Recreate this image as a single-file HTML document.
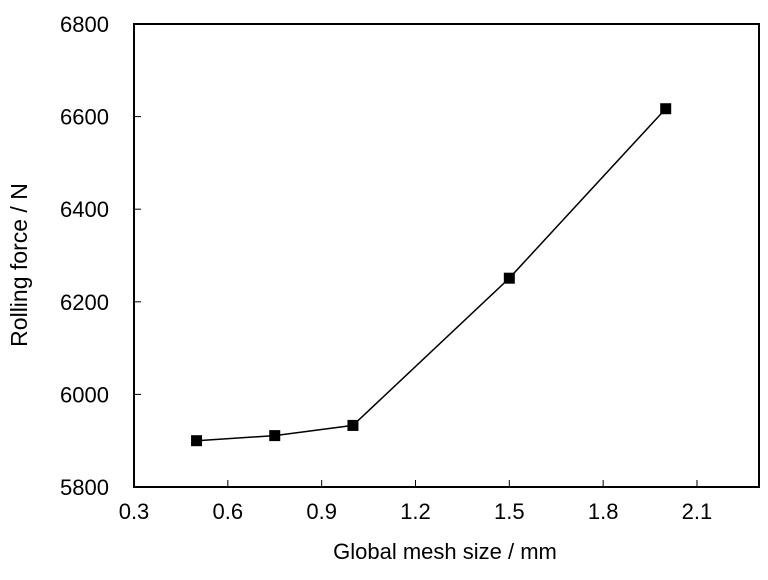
<!DOCTYPE html>
<html><head><meta charset="utf-8"><style>
body{margin:0;background:#fff;}
svg text{font-family:"Liberation Sans",Arial,sans-serif;fill:#000;}
</style></head><body>
<svg id="chart" width="768" height="575" xmlns="http://www.w3.org/2000/svg"></svg>
<script>
const xValues=[0.5,0.75,1.0,1.5,2.0];
const yValues=[5900,5911,5933,6251,6617];
const xTicks=[0.3,0.6,0.9,1.2,1.5,1.8,2.1];
const xTickLabels=["0.3","0.6","0.9","1.2","1.5","1.8","2.1"];
const yTicks=[5800,6000,6200,6400,6600,6800];
const yTickLabels=["5800","6000","6200","6400","6600","6800"];
const L=134,R=759,T=24,B=487;
const xMin=0.3,xMax=0.3+(R-L)/(93.83/0.3);
const yMin=5800,yMax=6800;
const sx=v=>L+(v-xMin)/(xMax-xMin)*(R-L);
const sy=v=>B-(v-yMin)/(yMax-yMin)*(B-T);
const svg=document.getElementById('chart');
const NS='http://www.w3.org/2000/svg';
function mk(tag,attrs){const e=document.createElementNS(NS,tag);for(const k in attrs)e.setAttribute(k,attrs[k]);svg.appendChild(e);return e;}
let f=mk('rect',{x:L,y:T,width:R-L,height:B-T,fill:'none',stroke:'#000','stroke-width':2});


xTicks.forEach((v,i)=>{
 const x=sx(v);
 if(i>0){const t=mk('line',{x1:x,x2:x,y1:B,y2:B-7,stroke:'#000','stroke-width':1});
 
 }
 const l=mk('text',{x:x,y:B+32,'text-anchor':'middle','font-size':22});
 l.textContent=xTickLabels[i];
 
 
});
yTicks.forEach((v,i)=>{
 const y=sy(v);
 if(i>0&&i<yTicks.length-1){const t=mk('line',{x1:L,x2:L+7,y1:y,y2:y,stroke:'#000','stroke-width':1});
 
 }
 const l=mk('text',{x:L-25,y:y+8,'text-anchor':'end','font-size':22});
 l.textContent=yTickLabels[i];
 
 
});
const pts=xValues.map((v,i)=>sx(v)+','+sy(yValues[i])).join(' ');
const line=mk('polyline',{points:pts,fill:'none',stroke:'#000','stroke-width':1.5});


xValues.forEach((v,i)=>{
 const m=mk('rect',{x:sx(v)-5.5,y:sy(yValues[i])-5.5,width:11,height:11,fill:'#000'});
 
 
});
const xt=mk('text',{x:445,y:559,'text-anchor':'middle','font-size':22});
xt.textContent='Global mesh size / mm';


const yt=mk('text',{x:0,y:0,'text-anchor':'middle','font-size':23,transform:'translate(27,265) rotate(-90)'});
yt.textContent='Rolling force / N';


</script>
</body></html>
